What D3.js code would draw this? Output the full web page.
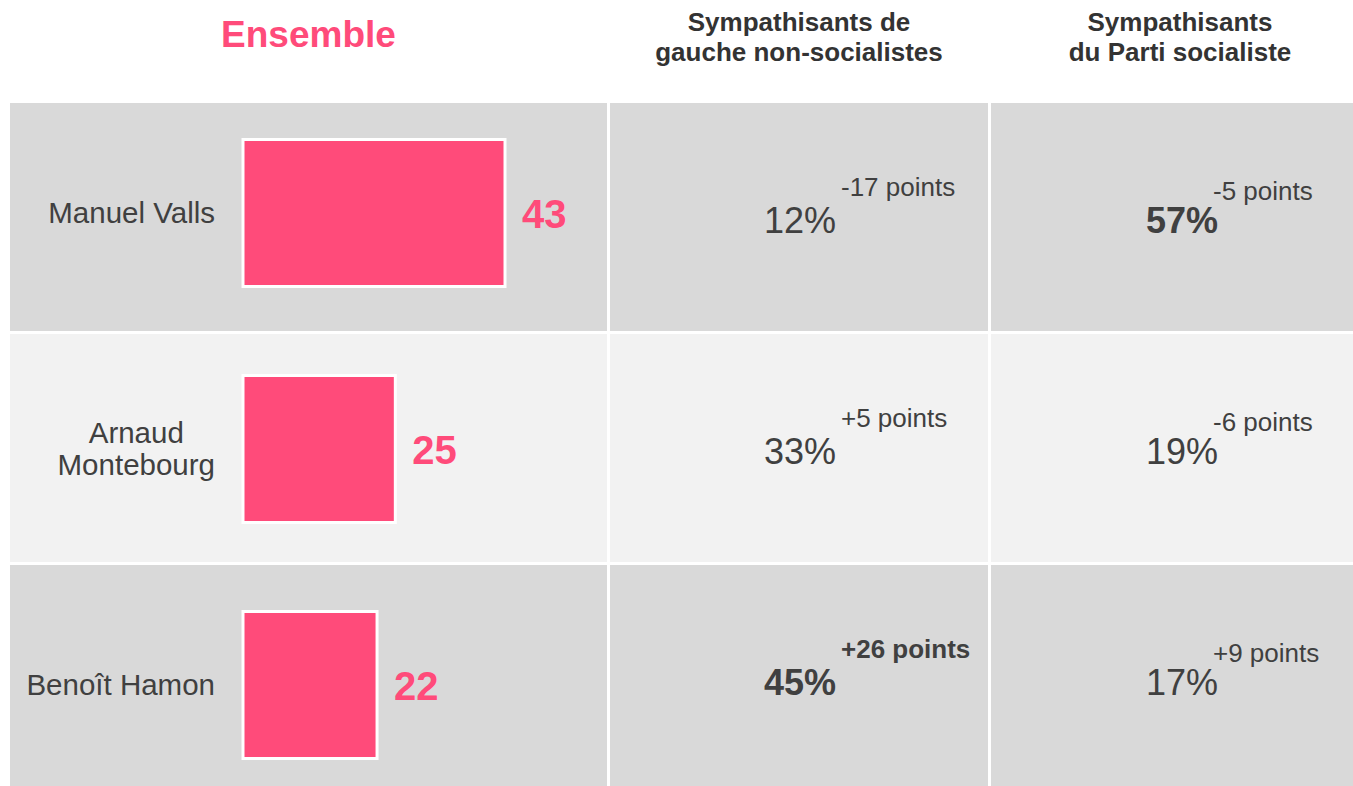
<!DOCTYPE html>
<html>
<head>
<meta charset="utf-8">
<script src="https://cdn.jsdelivr.net/npm/d3@7"></script>
<style>
  body { margin: 0; background: #fff; }
  svg { display: block; font-family: 'Liberation Sans', Arial, sans-serif; }
</style>
</head>
<body>
<div id="chart"></div>
<script>
// data
const candidates = [['Manuel Valls'], ['Arnaud', 'Montebourg'], ['Benoît Hamon']];
const ensemble = [43, 25, 22];
const columnTitles = [['Ensemble'], ['Sympathisants de', 'gauche non-socialistes'], ['Sympathisants', 'du Parti socialiste']];
const gaucheValues = ['12%', '33%', '45%'];
const gaucheChanges = ['-17 points', '+5 points', '+26 points'];
const gaucheBold = [false, false, true];
const psValues = ['57%', '19%', '17%'];
const psChanges = ['-5 points', '-6 points', '+9 points'];
const psBoldValue = [true, false, false];

const W = 1353, H = 786;
const pink = '#ff4b7a', ink = '#404040';

const svg = d3.select('#chart').append('svg').attr('width', W).attr('height', H);

// table layout
const cols = [{ x0: 10, x1: 607 }, { x0: 610, x1: 988 }, { x0: 991, x1: 1369 }];
const rowY = d3.scaleBand().domain(d3.range(3)).range([103, 793]).paddingInner(0.013);
// bars sit on their own grid (slightly wider step than the table rows)
const barY = d3.scaleBand().domain(d3.range(3)).range([139.5, 758.5]).paddingInner(89 / 236).paddingOuter(0);
const x = d3.scaleLinear().domain([0, 43]).range([0, 262]);
const barX0 = 243;

// backgrounds
const rowFill = ['#d9d9d9', '#f2f2f2', '#d9d9d9'];
d3.range(3).forEach(r => {
  cols.forEach(c => {
    svg.append('rect')
      .attr('x', c.x0).attr('y', rowY(r))
      .attr('width', c.x1 - c.x0).attr('height', rowY.bandwidth())
      .attr('fill', rowFill[r]);
  });
});

// headers
columnTitles.forEach((lines, i) => {
  const cx = (cols[i].x0 + cols[i].x1) / 2;
  const t = svg.append('text')
    .attr('text-anchor', 'middle')
    .attr('font-weight', 'bold')
    .attr('font-size', i === 0 ? 37 : 26)
    .attr('fill', i === 0 ? pink : '#333');
  if (i === 0) {
    t.attr('x', cx).attr('y', 47).text(lines[0]);
  } else {
    lines.forEach((l, j) => t.append('tspan').attr('x', cx).attr('y', 31 + j * 30).text(l));
  }
});

// bars
const g = svg.append('g');
g.selectAll('rect.bar').data(ensemble).join('rect')
  .attr('class', 'bar')
  .attr('x', barX0)
  .attr('y', (d, i) => barY(i))
  .attr('width', d => x(d))
  .attr('height', barY.bandwidth())
  .attr('fill', pink)
  .attr('stroke', '#fff')
  .attr('stroke-width', 3);

g.selectAll('text.val').data(ensemble).join('text')
  .attr('class', 'val')
  .attr('x', d => barX0 + x(d) + 17)
  .attr('y', (d, i) => barY(i) + barY.bandwidth() / 2 + 15)
  .attr('font-size', 40)
  .attr('font-weight', 'bold')
  .attr('fill', pink)
  .text(d => d);

// candidate names
candidates.forEach((lines, i) => {
  const cy = barY(i) + barY.bandwidth() / 2;
  const t = svg.append('text').attr('font-size', 29.5).attr('fill', ink).attr('text-anchor', 'middle');
  const lh = 32.5;
  const spans = lines.map((l, j) => t.append('tspan')
    .attr('y', cy + 10 + (j - (lines.length - 1) / 2) * lh).text(l));
  const maxW = d3.max(spans, s => s.node().getComputedTextLength());
  spans.forEach(s => s.attr('x', 215 - maxW / 2));
});

// percentage cells
function cells(colIdx, values, changes, boldVal, boldChg, valRight, chgLeft, chgDy) {
  values.forEach((v, i) => {
    const cy = rowY(i) + rowY.bandwidth() / 2;
    svg.append('text')
      .attr('x', cols[colIdx].x0 + valRight)
      .attr('y', cy + 16)
      .attr('text-anchor', 'end')
      .attr('font-size', 36)
      .attr('font-weight', boldVal[i] ? 'bold' : 'normal')
      .attr('fill', ink)
      .text(v);
    svg.append('text')
      .attr('x', cols[colIdx].x0 + chgLeft)
      .attr('y', cy + chgDy)
      .attr('font-size', 26)
      .attr('font-weight', boldChg[i] ? 'bold' : 'normal')
      .attr('fill', ink)
      .text(changes[i]);
  });
}
cells(1, gaucheValues, gaucheChanges, gaucheBold, gaucheBold, 226, 231, -21);
cells(2, psValues, psChanges, psBoldValue, [false, false, false], 227, 222, -17);
</script>
</body>
</html>
